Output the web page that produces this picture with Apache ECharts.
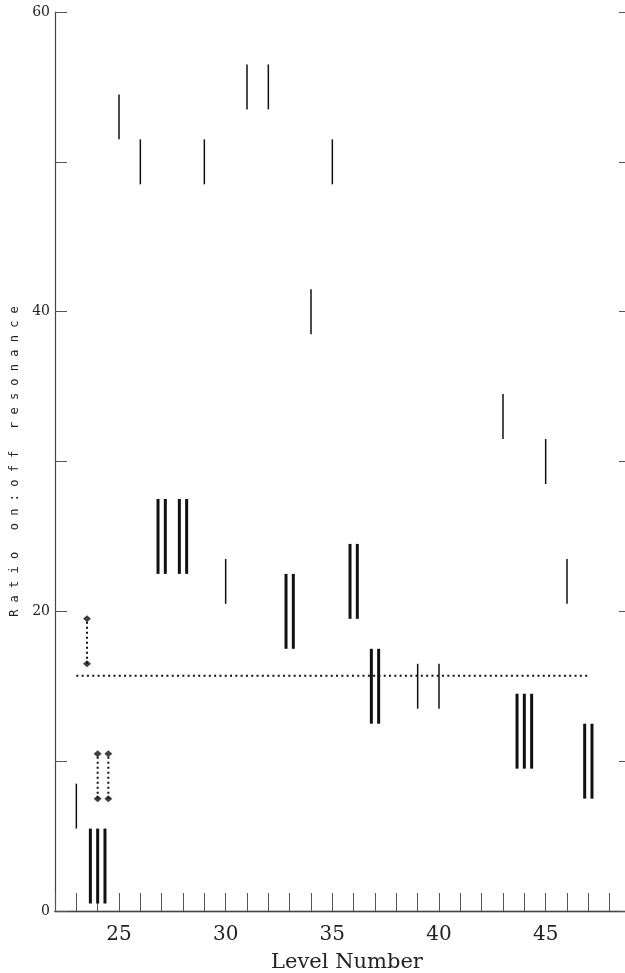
<!DOCTYPE html>
<html>
<head>
<meta charset="utf-8">
<script src="https://cdn.jsdelivr.net/npm/echarts@6/dist/echarts.min.js"></script>
<style>
  html, body { margin: 0; padding: 0; background: #fff; }
  #chart { width: 625px; height: 973px; }
</style>
</head>
<body>
<div id="chart"></div>
<script>
// Measured on:off ratio ranges per level (low/high end of each bar)
const singleLevels = [23, 25, 26, 29, 30, 31, 32, 34, 35, 39, 40, 43, 45, 46];
const singleLow    = [5.5, 51.5, 48.5, 48.5, 20.5, 53.5, 53.5, 38.5, 48.5, 13.5, 13.5, 31.5, 28.5, 20.5];
const singleHigh   = [8.5, 54.5, 51.5, 51.5, 23.5, 56.5, 56.5, 41.5, 51.5, 16.5, 16.5, 34.5, 31.5, 23.5];

const doubleLevels = [27, 28, 33, 36, 37, 47];
const doubleLow    = [22.5, 22.5, 17.5, 19.5, 12.5, 7.5];
const doubleHigh   = [27.5, 27.5, 22.5, 24.5, 17.5, 12.5];

const tripleLevels = [24, 44];
const tripleLow    = [0.5, 9.5];
const tripleHigh   = [5.5, 14.5];

// Upper limits drawn as dotted ranges with diamond ends
const dottedLevels = [23.5, 24, 24.5];
const dottedLow    = [16.5, 7.5, 7.5];
const dottedHigh   = [19.5, 10.5, 10.5];

// Horizontal reference level
const refLevel = 15.7;
const refFrom = 23;
const refTo = 47;

const xTickLabels = [25, 30, 35, 40, 45];
const yTickLabels = [0, 20, 40, 60];

const INK = '#111';

function groupData(levels, lows, highs, count) {
  return levels.map((l, i) => [l, lows[i], highs[i], count]);
}

// Draws n parallel vertical strokes for each range, spaced in pixels
function renderBars(params, api) {
  const x = api.value(0), lo = api.value(1), hi = api.value(2), n = api.value(3);
  const p0 = api.coord([x, lo]);
  const p1 = api.coord([x, hi]);
  const gap = 7.3;
  const width = n > 1 ? 3 : 1.5;
  const children = [];
  for (let k = 0; k < n; k++) {
    const dx = (k - (n - 1) / 2) * gap;
    children.push({
      type: 'line',
      shape: { x1: p0[0] + dx, y1: p0[1], x2: p1[0] + dx, y2: p1[1] },
      style: { stroke: INK, lineWidth: width }
    });
  }
  return { type: 'group', children };
}

function renderDotted(params, api) {
  const x = api.value(0), lo = api.value(1), hi = api.value(2);
  const p0 = api.coord([x, lo]);
  const p1 = api.coord([x, hi]);
  return {
    type: 'line',
    shape: { x1: p0[0], y1: p0[1], x2: p1[0], y2: p1[1] },
    style: { stroke: INK, lineWidth: 2, lineDash: [2, 3] }
  };
}

const diamondEnds = [];
dottedLevels.forEach((l, i) => {
  diamondEnds.push([l, dottedLow[i]]);
  diamondEnds.push([l, dottedHigh[i]]);
});

const chart = echarts.init(document.getElementById('chart'), null, { renderer: 'canvas' });

const serif = 'DejaVu Serif';

chart.setOption({
  animation: false,
  backgroundColor: '#fff',
  grid: { left: 55, top: 12, right: -6, bottom: 62, containLabel: false, outerBoundsMode: 'none' },
  xAxis: [
    {
      type: 'value', min: 22, max: 49, interval: 1, position: 'bottom',
      axisLine: { show: true, lineStyle: { color: '#222', width: 1.4 } },
      axisTick: { show: true, inside: true, length: 18, lineStyle: { color: '#555', width: 1 } },
      axisLabel: {
        margin: 14, fontFamily: serif, fontSize: 20, color: '#222',
        formatter: v => xTickLabels.includes(v) ? String(v) : ''
      },
      splitLine: { show: false },
      name: 'Level Number', nameLocation: 'middle', nameGap: 41,
      nameTextStyle: { fontFamily: serif, fontSize: 21, color: '#222', padding: [0, 0, 0, 8] }
    },
    {
      type: 'value', min: 22, max: 49, position: 'top',
      axisLine: { show: true, lineStyle: { color: '#444', width: 1.2 } },
      axisTick: { show: false }, axisLabel: { show: false }, splitLine: { show: false }
    }
  ],
  yAxis: [
    {
      type: 'value', min: 0, max: 60, interval: 10, position: 'left',
      axisLine: { show: true, lineStyle: { color: '#444', width: 1.2 } },
      axisTick: { show: true, inside: true, length: 12, lineStyle: { color: '#555', width: 1 } },
      axisLabel: {
        margin: 5, fontFamily: serif, fontSize: 14, color: '#222',
        formatter: v => yTickLabels.includes(v) ? String(v) : ''
      },
      splitLine: { show: false },
      name: 'R a t i o   o n : o f f   r e s o n a n c e',
      nameLocation: 'middle', nameRotate: 90, nameGap: 31,
      nameTextStyle: { fontFamily: 'DejaVu Sans Mono', fontSize: 12, color: '#222' }
    },
    {
      type: 'value', min: 0, max: 60, interval: 10, position: 'right',
      axisLine: { show: true, lineStyle: { color: '#333', width: 1.2 } },
      axisTick: { show: true, inside: true, length: 12, lineStyle: { color: '#555', width: 1 } },
      axisLabel: { show: false }, splitLine: { show: false }
    }
  ],
  series: [
    {
      type: 'line', xAxisIndex: 0, yAxisIndex: 0,
      data: [[refFrom, refLevel], [refTo, refLevel]],
      symbol: 'none', silent: true,
      lineStyle: { color: INK, width: 2, type: [2, 3.3] }
    },
    {
      type: 'custom', renderItem: renderBars, xAxisIndex: 0, yAxisIndex: 0,
      data: groupData(singleLevels, singleLow, singleHigh, 1)
    },
    {
      type: 'custom', renderItem: renderBars, xAxisIndex: 0, yAxisIndex: 0,
      data: groupData(doubleLevels, doubleLow, doubleHigh, 2)
    },
    {
      type: 'custom', renderItem: renderBars, xAxisIndex: 0, yAxisIndex: 0,
      data: groupData(tripleLevels, tripleLow, tripleHigh, 3)
    },
    {
      type: 'custom', renderItem: renderDotted, xAxisIndex: 0, yAxisIndex: 0,
      data: groupData(dottedLevels, dottedLow, dottedHigh, 1)
    },
    {
      type: 'scatter', xAxisIndex: 0, yAxisIndex: 0,
      data: diamondEnds, symbol: 'diamond', symbolSize: [8, 7],
      itemStyle: { color: INK }
    }
  ]
});
</script>
</body>
</html>
